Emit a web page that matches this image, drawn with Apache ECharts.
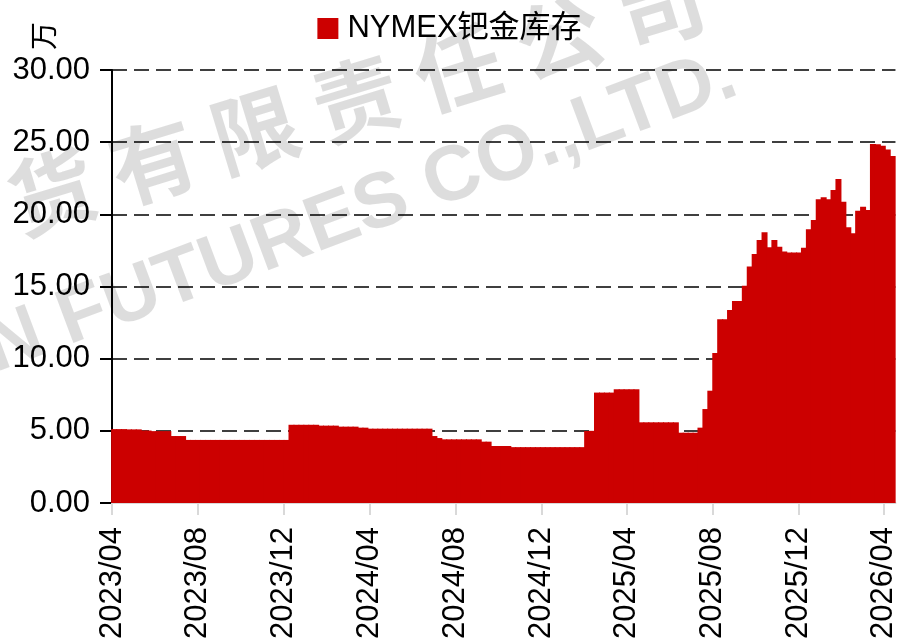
<!DOCTYPE html>
<html><head><meta charset="utf-8">
<script src="https://cdn.jsdelivr.net/npm/echarts/dist/echarts.min.js"></script>
<style>html,body{margin:0;padding:0;background:#fff}#c{width:899px;height:643px}</style>
</head><body><div id="c"></div><script>
// Week mid-points (Tuesdays) of the weekly readings
const weeks = [
'2023-04-04','2023-04-11','2023-04-18','2023-04-25','2023-05-02','2023-05-09','2023-05-16','2023-05-23','2023-05-30',
'2023-06-06','2023-06-13','2023-06-20','2023-06-27','2023-07-04','2023-07-11','2023-07-18','2023-07-25',
'2023-08-01','2023-08-08','2023-08-15','2023-08-22','2023-08-29','2023-09-05','2023-09-12','2023-09-19','2023-09-26',
'2023-10-03','2023-10-10','2023-10-17','2023-10-24','2023-10-31','2023-11-07','2023-11-14','2023-11-21','2023-11-28',
'2023-12-05','2023-12-12','2023-12-19','2023-12-26',
'2024-01-02','2024-01-09','2024-01-16','2024-01-23','2024-01-30','2024-02-06','2024-02-13','2024-02-20','2024-02-27',
'2024-03-05','2024-03-12','2024-03-19','2024-03-26','2024-04-02','2024-04-09','2024-04-16','2024-04-23','2024-04-30',
'2024-05-07','2024-05-14','2024-05-21','2024-05-28','2024-06-04','2024-06-11','2024-06-18','2024-06-25',
'2024-07-02','2024-07-09','2024-07-16','2024-07-23','2024-07-30','2024-08-06','2024-08-13','2024-08-20','2024-08-27',
'2024-09-03','2024-09-10','2024-09-17','2024-09-24','2024-10-01','2024-10-08','2024-10-15','2024-10-22','2024-10-29',
'2024-11-05','2024-11-12','2024-11-19','2024-11-26','2024-12-03','2024-12-10','2024-12-17','2024-12-24','2024-12-31',
'2025-01-07','2025-01-14','2025-01-21','2025-01-28','2025-02-04','2025-02-11','2025-02-18','2025-02-25',
'2025-03-04','2025-03-11','2025-03-18','2025-03-25','2025-04-01','2025-04-08','2025-04-15','2025-04-22','2025-04-29',
'2025-05-06','2025-05-13','2025-05-20','2025-05-27','2025-06-03','2025-06-10','2025-06-17','2025-06-24',
'2025-07-01','2025-07-08','2025-07-15','2025-07-22','2025-07-29','2025-08-05','2025-08-12','2025-08-19','2025-08-26',
'2025-09-02','2025-09-09','2025-09-16','2025-09-23','2025-09-30','2025-10-07','2025-10-14','2025-10-21','2025-10-28',
'2025-11-04','2025-11-11','2025-11-18','2025-11-25','2025-12-02','2025-12-09','2025-12-16','2025-12-23','2025-12-30',
'2026-01-06','2026-01-13','2026-01-20','2026-01-27','2026-02-03','2026-02-10','2026-02-17','2026-02-24',
'2026-03-03','2026-03-10','2026-03-17','2026-03-24','2026-03-31','2026-04-07','2026-04-14'
];
// NYMEX palladium stocks (unit: 万)
const stock = [
5.12,5.12,5.12,5.10,5.10,5.10,5.02,5.02,4.98,4.98,4.98,4.98,4.64,4.64,4.64,
4.37,4.37,4.37,4.37,4.37,4.37,4.37,4.37,4.37,4.37,4.37,4.37,4.37,4.37,4.37,4.37,4.37,4.37,4.37,4.37,4.37,
5.42,5.42,5.42,5.42,5.42,5.42,5.36,5.36,5.36,5.36,5.29,5.29,5.29,5.29,5.22,5.22,
5.15,5.15,5.15,5.15,5.15,5.15,5.15,5.15,5.15,5.15,5.15,5.15,5.15,
4.64,4.50,4.41,4.41,4.41,4.41,4.41,4.41,4.41,4.41,4.25,4.25,3.95,3.95,3.95,3.95,
3.87,3.87,3.87,3.87,3.87,3.87,3.87,3.87,3.87,3.87,3.87,3.87,3.87,3.87,3.87,
4.99,5.00,7.65,7.65,7.65,7.65,7.88,7.88,7.88,7.88,7.88,
5.59,5.59,5.59,5.59,5.59,5.59,5.59,5.59,4.87,4.87,4.87,4.87,
5.22,6.51,7.78,10.40,12.73,12.73,13.37,14.00,14.00,15.06,16.38,17.26,18.23,18.76,17.72,18.23,17.76,17.42,
17.35,17.35,17.35,17.69,18.97,19.61,21.05,21.19,21.05,21.69,22.45,20.88,19.10,18.69,20.24,20.53,20.30,
24.88,24.85,24.75,24.50,24.05
];
const tickDates = ['2023-04-01','2023-08-01','2023-12-01','2024-04-01','2024-08-01','2024-12-01','2025-04-01','2025-08-01','2025-12-01','2026-04-01'];
const axisStart = '2023-04-01';
const axisEnd = '2026-04-18';
const seriesName = 'NYMEX钯金库存';
const unitName = '万';
const wmCn = ['货','有','限','责','任','公','司'];
const wmEn = 'N FUTURES CO.,LTD.';

const FONT = "'Liberation Sans', 'Noto Sans CJK SC', sans-serif";
const toTs = s => { const p = s.split('-').map(Number); return new Date(p[0], p[1]-1, p[2]).getTime(); };
const tickTs = tickDates.map(toTs);
const data = weeks.map((d, i) => [toTs(d), stock[i]]);

const wmColor = 'rgba(0,0,0,0.135)';
const cnAng = 17 * Math.PI / 180;
const graphics = wmCn.map((ch, i) => ({
  type: 'text', z: -10, silent: true,
  x: 52 + i * 106 * Math.cos(cnAng), y: 192 - i * 106 * Math.sin(cnAng),
  rotation: cnAng,
  style: { text: ch, font: "bold 86px 'Noto Sans CJK SC'", fill: wmColor, textAlign: 'center', textVerticalAlign: 'middle' }
}));
const enAng = 20.5 * Math.PI / 180;
graphics.push({
  type: 'text', z: -10, silent: true,
  x: -12, y: 352, rotation: enAng,
  style: { text: wmEn, font: "bold 78px 'Liberation Sans'", fill: wmColor, textAlign: 'left', textVerticalAlign: 'middle' }
});
// axis unit
graphics.push({
  type: 'text', z: 10, silent: true,
  x: 43, y: 36, rotation: Math.PI / 2,
  style: { text: unitName, font: "28px 'Noto Sans CJK SC'", fill: '#000', textAlign: 'center', textVerticalAlign: 'middle' }
});

const chart = echarts.init(document.getElementById('c'), null, { renderer: 'canvas' });
chart.setOption({
  animation: false,
  backgroundColor: '#fff',
  textStyle: { fontFamily: FONT },
  graphic: graphics,
  legend: {
    top: 8, left: 'center', icon: 'rect', itemWidth: 21, itemHeight: 21,
    textStyle: { fontSize: 31, color: '#000', fontFamily: FONT, padding: [0, 0, 0, 4] },
    data: [seriesName]
  },
  grid: { left: 112, right: 2, top: 70, bottom: 140, containLabel: false },
  xAxis: {
    type: 'value', min: toTs(axisStart), max: toTs(axisEnd),
    axisLine: { show: true, lineStyle: { color: '#D9D9D9', width: 2 } },
    axisTick: { show: true, customValues: tickTs, length: 12, lineStyle: { color: '#D9D9D9', width: 2 } },
    axisLabel: {
      customValues: tickTs, rotate: 90, margin: 24, fontSize: 31, color: '#000', fontFamily: FONT,
      formatter: v => { const d = new Date(v); return d.getFullYear() + '/' + String(d.getMonth() + 1).padStart(2, '0'); }
    },
    splitLine: { show: false }
  },
  yAxis: {
    type: 'value', min: 0, max: 30, interval: 5,
    axisLine: { show: true, lineStyle: { color: '#000', width: 2 } },
    axisTick: { show: true, length: 12, lineStyle: { color: '#000', width: 2 } },
    axisLabel: { margin: 22, fontSize: 31, color: '#000', fontFamily: FONT, formatter: v => v.toFixed(2) },
    splitLine: { show: true, lineStyle: { color: '#000', width: 1.6, type: [15, 7] } }
  },
  series: [{
    name: seriesName, type: 'bar', data: data, barWidth: 6,
    itemStyle: { color: '#CC0000' }, z: 2
  }]
});
</script></body></html>
